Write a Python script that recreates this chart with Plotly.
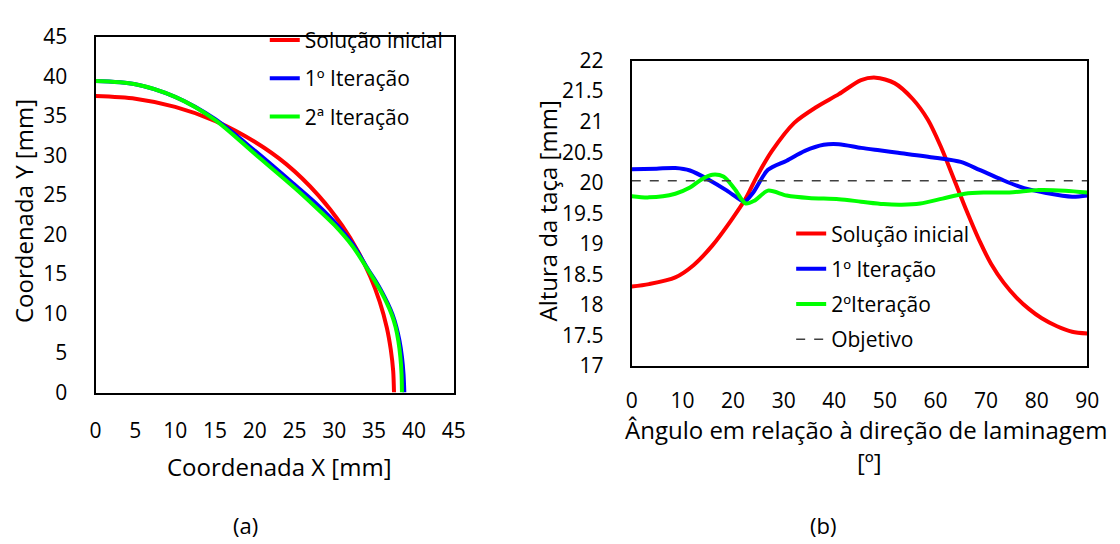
import plotly.graph_objects as go

# ---------- (a) profile data ----------
red_x = [0, 5, 10, 15, 20, 24, 28, 31, 33, 34.5, 35.7, 36.6, 37.1, 37.4, 37.5]
red_y = [37.5, 37.17, 36.14, 34.37, 31.72, 28.86, 24.95, 21.1, 17.8, 14.7, 11.5, 8.2, 5.4, 2.7, 0]

blue_x = [0, 5, 10, 15, 20, 25, 27.5, 30, 32.3, 34.3, 35.2, 36.0, 36.7, 37.3, 37.8, 38.2,
          38.5, 38.7, 38.8]
blue_y = [39.4, 39.0, 37.4, 34.6, 30.6, 26.3, 24.1, 21.6, 18.8, 15.5, 14.1, 12.7, 11.3, 9.9,
          8.3, 6.5, 4.5, 2.3, 0]

green_x = [0, 5, 10, 15, 20, 25, 27.5, 30, 32.3, 34.3, 35.1, 35.9, 36.6, 37.2, 37.7, 38.05,
           38.3, 38.45, 38.5]
green_y = [39.4, 39.0, 37.4, 34.5, 30.2, 25.9, 23.6, 21.2, 18.5, 15.4, 14.1, 12.7, 11.3, 9.9,
           8.3, 6.5, 4.5, 2.3, 0]

# ---------- (b) cup height data ----------
ang_red = [0, 3.4, 8.6, 12.2, 15.9, 19.6, 22.5, 24.7, 27.7, 32.1, 36.5, 40.9, 45.3, 48.2,
           51.9, 55.5, 58.5, 61.0, 63.6, 66.0, 68.8, 71.0, 73.5, 76.0, 78.5, 81.0, 84.0, 87.0, 90]
h_red = [18.30, 18.34, 18.45, 18.65, 18.97, 19.38, 19.74, 20.10, 20.52, 20.98, 21.24, 21.45,
         21.68, 21.72, 21.63, 21.37, 21.03, 20.60, 20.07, 19.57, 19.03, 18.67, 18.36, 18.12,
         17.93, 17.78, 17.65, 17.56, 17.53]

ang_blue = [0, 4.9, 8.6, 11.5, 15.2, 18.8, 21.4, 22.3, 24.0, 26.9, 30.6, 34.2, 37.9, 40.9,
            45.3, 48.9, 52.6, 59.9, 65.0, 68.7, 73.1, 77.5, 81.9, 87.0, 90]
h_blue = [20.22, 20.23, 20.24, 20.20, 20.05, 19.87, 19.72, 19.69, 19.84, 20.21, 20.36, 20.52,
          20.62, 20.63, 20.57, 20.53, 20.49, 20.41, 20.34, 20.21, 20.05, 19.91, 19.83, 19.77,
          19.79]

ang_green = [0, 3.4, 8.6, 11.5, 13.7, 15.9, 18.1, 20.3, 22.5, 24.3, 26.9, 30.6, 35.0, 40.9,
             45.3, 49.7, 53.3, 57.0, 61.4, 65.8, 69.5, 74.6, 80.4, 85.6, 90]
h_green = [19.78, 19.76, 19.82, 19.92, 20.05, 20.13, 20.10, 19.90, 19.66, 19.71, 19.87, 19.79,
           19.75, 19.73, 19.69, 19.65, 19.64, 19.66, 19.74, 19.82, 19.84, 19.84, 19.88, 19.87,
           19.84]

ang_obj = [0, 90]
h_obj = [20.03, 20.03]

names_a = ["Solução inicial", "1º Iteração", "2ª Iteração"]
names_b = ["Solução inicial", "1º Iteração", "2ºIteração", "Objetivo"]

FONT = "Open Sans, Lato, sans-serif"
RED, BLUE, GREEN = "#FF0000", "#0000FF", "#00FF00"

fig = go.Figure()

for i, (xs, ys, col) in enumerate([(red_x, red_y, RED), (blue_x, blue_y, BLUE), (green_x, green_y, GREEN)]):
    fig.add_trace(go.Scatter(x=xs, y=ys, mode="lines", name=names_a[i],
                             line=dict(color=col, width=4, shape="spline", smoothing=0.8),
                             xaxis="x", yaxis="y", legend="legend", legendgroup="a%d" % i))

for i, (xs, ys, col) in enumerate([(ang_red, h_red, RED), (ang_blue, h_blue, BLUE), (ang_green, h_green, GREEN)]):
    fig.add_trace(go.Scatter(x=xs, y=ys, mode="lines", name=names_b[i],
                             line=dict(color=col, width=4, shape="spline", smoothing=0.8),
                             xaxis="x2", yaxis="y2", legend="legend2", legendgroup="b%d" % i))
fig.add_trace(go.Scatter(x=ang_obj, y=h_obj, mode="lines", name=names_b[3],
                         line=dict(color="#404040", width=1.5, dash="dash"),
                         xaxis="x2", yaxis="y2", legend="legend2", legendgroup="b3"))

W, H = 1120, 544
def px(x): return x / W
def py(y): return 1 - y / H

def axis_common(standoff):
    return dict(showgrid=False, zeroline=False, showline=True, linecolor="black",
                linewidth=2, mirror=True, ticks="", ticklabelstandoff=standoff,
                tickfont=dict(family=FONT, size=21, color="black"))

fig.update_layout(
    width=W, height=H, margin=dict(l=0, r=0, t=0, b=0),
    paper_bgcolor="white", plot_bgcolor="white",
    font=dict(family=FONT, color="black", size=21),
    xaxis=dict(domain=[px(91), px(455)], range=[0, 45], tickvals=list(range(0, 50, 5)),
               anchor="y", **axis_common(18)),
    yaxis=dict(domain=[py(398), py(23)], range=[0, 45], tickvals=list(range(0, 50, 5)),
               anchor="x", **axis_common(22)),
    xaxis2=dict(domain=[px(636), px(1099)], range=[0, 90], tickvals=list(range(0, 100, 10)),
                anchor="y2", **axis_common(15)),
    yaxis2=dict(domain=[py(370), py(48)], range=[17, 22],
                tickvals=[17, 17.5, 18, 18.5, 19, 19.5, 20, 20.5, 21, 21.5, 22],
                ticktext=["17", "17.5", "18", "18.5", "19", "19.5", "20", "20.5", "21", "21.5", "22"],
                anchor="x2", **axis_common(22)),
    legend=dict(x=px(263), y=py(5), xanchor="left", yanchor="top", bgcolor="rgba(0,0,0,0)",
                font=dict(family=FONT, size=21), tracegroupgap=8, itemwidth=30),
    legend2=dict(x=px(798), y=py(209), xanchor="left", yanchor="top", bgcolor="rgba(0,0,0,0)",
                 font=dict(family=FONT, size=21), tracegroupgap=5, itemwidth=30),
    showlegend=True,
)

ann = [
    dict(text="Coordenada X [mm]", x=px(278), y=py(476), textangle=0, size=24),
    dict(text="Coordenada Y [mm]", x=px(18), y=py(207), textangle=-90, size=24),
    dict(text="Ângulo em relação à direção de laminagem", x=px(874), y=py(437), textangle=0, size=24),
    dict(text="[º]", x=px(878), y=py(471), textangle=0, size=24),
    dict(text="Altura da taça [mm]", x=px(550), y=py(207), textangle=-90, size=24),
    dict(text="(a)", x=px(243), y=py(538), textangle=0, size=22),
    dict(text="(b)", x=px(830), y=py(538), textangle=0, size=22),
]
for a in ann:
    sz = a.pop("size")
    fig.add_annotation(xref="paper", yref="paper", showarrow=False, xanchor="center",
                       yanchor="middle", font=dict(family=FONT, size=sz, color="black"),
                       **a)

fig.write_html("out.html")
